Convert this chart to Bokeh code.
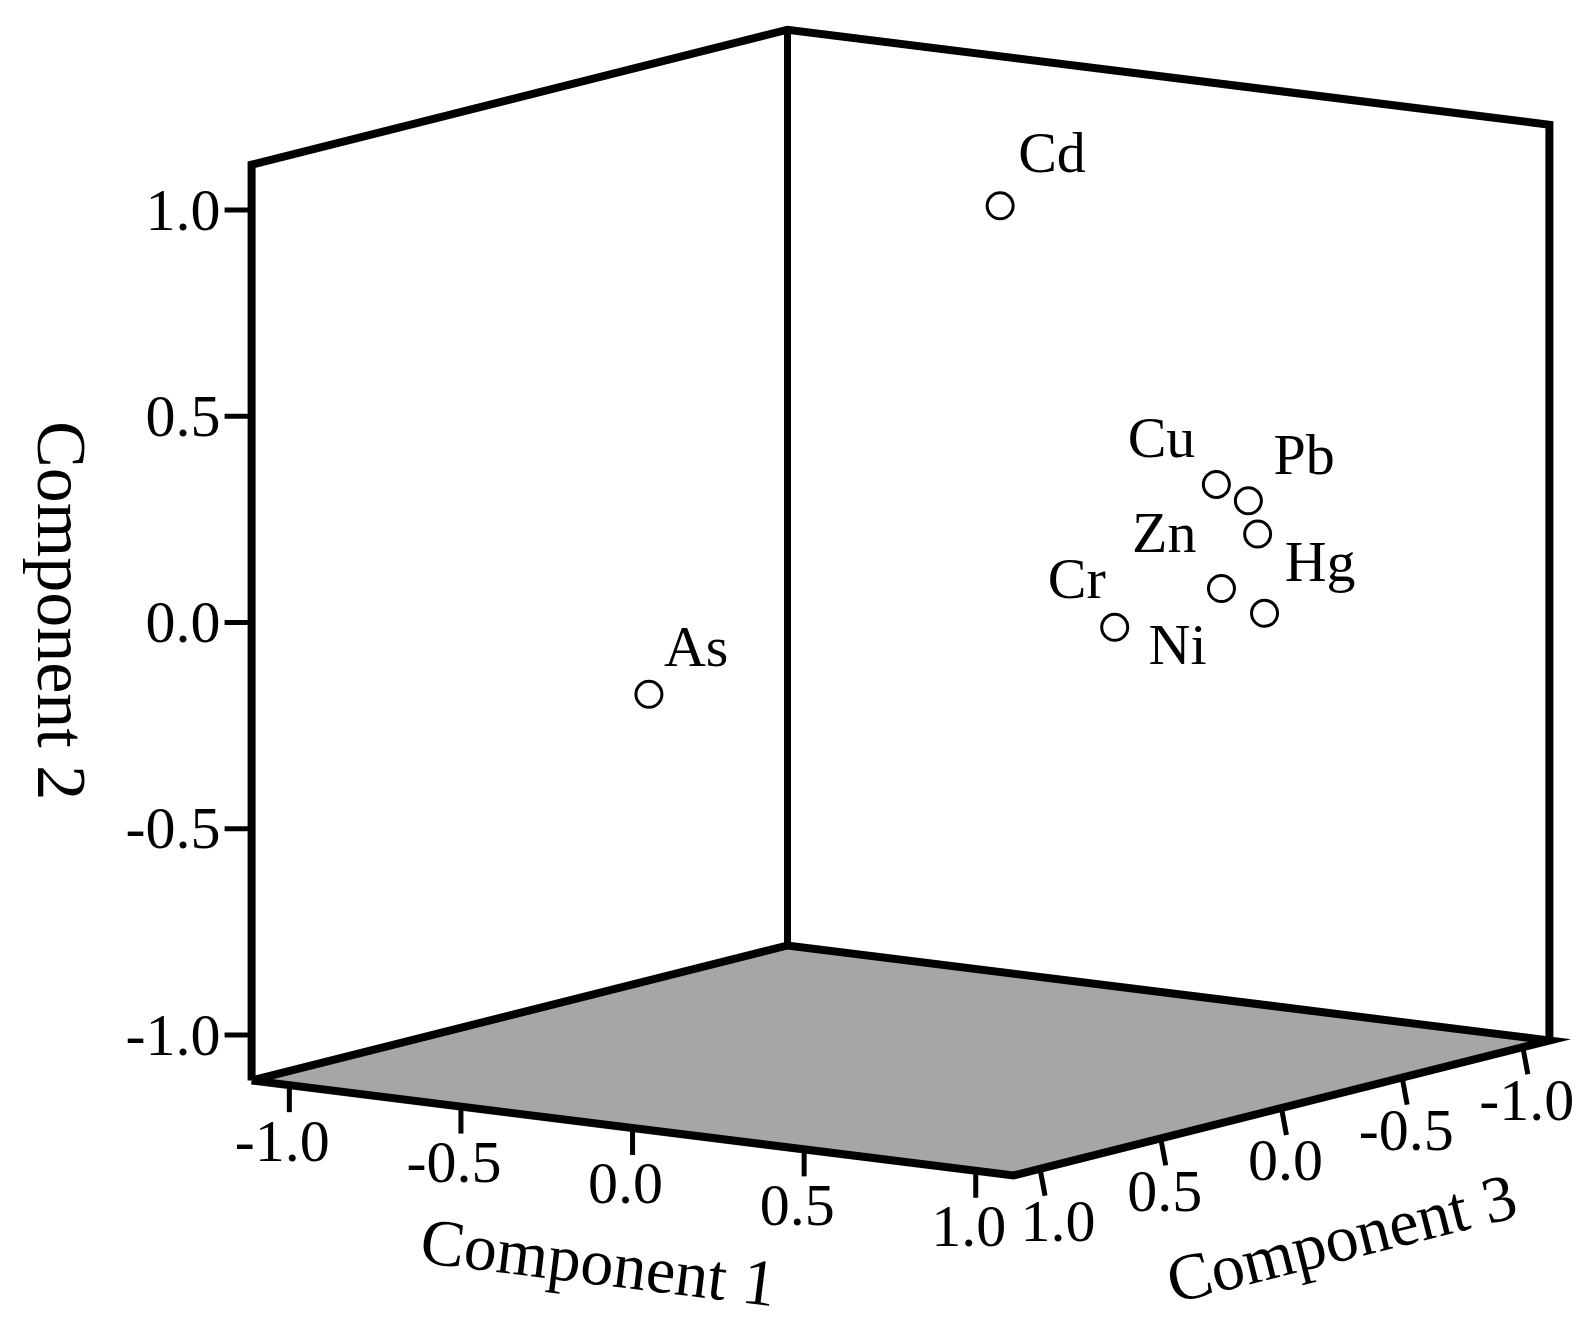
import numpy as np
from bokeh.plotting import figure
from bokeh.models import Range1d, ColumnDataSource
from bokeh.core.properties import value
from bokeh.embed import file_html
from bokeh.resources import INLINE

# ---------------- data ----------------
elements = ["Cu", "Pb", "Hg", "Zn", "Ni", "Cr", "Cd", "As"]
component_1 = [0.85, 0.88, 0.90, 0.90, 0.92, 0.80, 0.22, -0.10]
component_2 = [0.36, 0.31, 0.23, 0.12, 0.04, 0.06, 0.97, -0.10]
component_3 = [-0.10, -0.19, -0.20, -0.05, -0.20, 0.25, -0.10, 0.90]
tick_values = [-1.0, -0.5, 0.0, 0.5, 1.0]
tick_labels = ["-1.0", "-0.5", "0.0", "0.5", "1.0"]
axis_titles = ["Component 1", "Component 2", "Component 3"]
axis_limit = 1.11

# ---------------- style / projection ----------------
FONT = value("Liberation Serif")
ORIGIN = (900.0, 602.1)
E1 = (343.2, 42.8)     # screen px per unit of component 1
E2 = (0.0, -412.5)     # screen px per unit of component 2
E3 = (-241.4, 60.8)    # screen px per unit of component 3

# label placement: (align, dx, dy to text middle) in screen px relative to point
label_style = {
    "Cd": ("left", 18, -53), "As": ("left", 15, -48), "Cu": ("right", -21, -47),
    "Pb": ("left", 25, -46), "Hg": ("left", 27, 27), "Zn": ("right", -25, -56),
    "Cr": ("right", -9, -49), "Ni": ("right", -58, 31),
}
c3_label_shift = [0, 0, 0, 0, 14]   # extra x shift of component-3 tick labels


def project(c1, c2, c3):
    c1, c2, c3 = (np.asarray(v, dtype=float) for v in (c1, c2, c3))
    x = ORIGIN[0] + c1 * E1[0] + c2 * E2[0] + c3 * E3[0]
    y = ORIGIN[1] + c1 * E1[1] + c2 * E2[1] + c3 * E3[1]
    return x, y


W, H = 1582, 1319
p = figure(width=W, height=H, x_range=Range1d(0, W), y_range=Range1d(H, 0),
           output_backend="svg", toolbar_location=None, min_border=0,
           x_axis_location=None, y_axis_location=None)
p.outline_line_color = None
p.grid.grid_line_color = None
p.background_fill_color = "white"
p.border_fill_color = "white"

R = axis_limit
# floor
fx, fy = project([-R, -R, R, R], [-R, -R, -R, -R], [R, -R, -R, R])
p.patch(fx, fy, fill_color="#a6a6a6", line_color=None)

LW = 8
# floor outline
ox, oy = project([-R, -R, R, R, -R], [-R] * 5, [R, -R, -R, R, R])
p.line(ox, oy, line_color="black", line_width=LW, line_join="miter")
# walls outline
wx, wy = project([-R, -R, -R, R, R], [-R, R, R, R, -R], [R, R, -R, -R, -R])
p.line(wx, wy, line_color="black", line_width=LW, line_join="miter")
bx, by = project([-R, -R], [-R, R], [-R, -R])
p.line(bx, by, line_color="black", line_width=LW - 1)

tv = np.array(tick_values)
n = len(tv)
TICK = 27
TW = 5
# component 2 ticks (left vertical edge)
t2x, t2y = project([-R] * n, tv, [R] * n)
p.segment(t2x, t2y, t2x - TICK, t2y, line_color="black", line_width=TW)
p.text(t2x, t2y, text=tick_labels, x_offset=-31, text_align="right", text_baseline="middle",
       text_font=FONT, text_font_size=value("60px"), text_color="black")
# component 1 ticks (front-left floor edge)
t1x, t1y = project(tv, [-R] * n, [R] * n)
p.segment(t1x, t1y, t1x, t1y + TICK, line_color="black", line_width=TW)
p.text(t1x, t1y, text=tick_labels, x_offset=-7, y_offset=56, text_align="center",
       text_baseline="middle", text_font=FONT, text_font_size=value("60px"), text_color="black")
# component 3 ticks (front-right floor edge)
t3x, t3y = project([R] * n, [-R] * n, tv)
p.segment(t3x, t3y, t3x + 5, t3y + TICK, line_color="black", line_width=TW)
src3 = ColumnDataSource(dict(x=t3x, y=t3y, t=tick_labels, dx=[4 + s for s in c3_label_shift]))
p.text("x", "y", text="t", x_offset="dx", y_offset=53, source=src3, text_align="center",
       text_baseline="middle", text_font=FONT, text_font_size=value("60px"), text_color="black")

# axis titles
a1x, a1y = project([0], [-R], [R])
p.text(a1x, a1y, text=[axis_titles[0]], x_offset=-34, y_offset=134,
       angle=-np.arctan2(E1[1], E1[0]), text_align="center", text_baseline="middle",
       text_font=FONT, text_font_size=value("66px"), text_color="black")
a2x, a2y = project([-R], [0], [R])
p.text(a2x, a2y, text=[axis_titles[1]], x_offset=-190, y_offset=-12, angle=-np.pi / 2,
       text_align="center", text_baseline="middle",
       text_font=FONT, text_font_size=value("70px"), text_color="black")
a3x, a3y = project([R], [-R], [0])
p.text(a3x, a3y, text=[axis_titles[2]], x_offset=60, y_offset=130,
       angle=np.arctan2(E3[1], -E3[0]), text_align="center", text_baseline="middle",
       text_font=FONT, text_font_size=value("66px"), text_color="black")

# points
px, py = project(component_1, component_2, component_3)
p.scatter(px, py, marker="circle", size=26, fill_color="white", line_color="black", line_width=3)

for align in ("left", "right"):
    idx = [i for i, e in enumerate(elements) if label_style[e][0] == align]
    src = ColumnDataSource(dict(
        x=px[idx], y=py[idx], t=[elements[i] for i in idx],
        dx=[label_style[elements[i]][1] for i in idx],
        dy=[label_style[elements[i]][2] for i in idx]))
    p.text("x", "y", text="t", x_offset="dx", y_offset="dy", source=src,
           text_align=align, text_baseline="middle",
           text_font=FONT, text_font_size=value("58px"), text_color="black")

open("out.html", "w").write(file_html(p, INLINE))
